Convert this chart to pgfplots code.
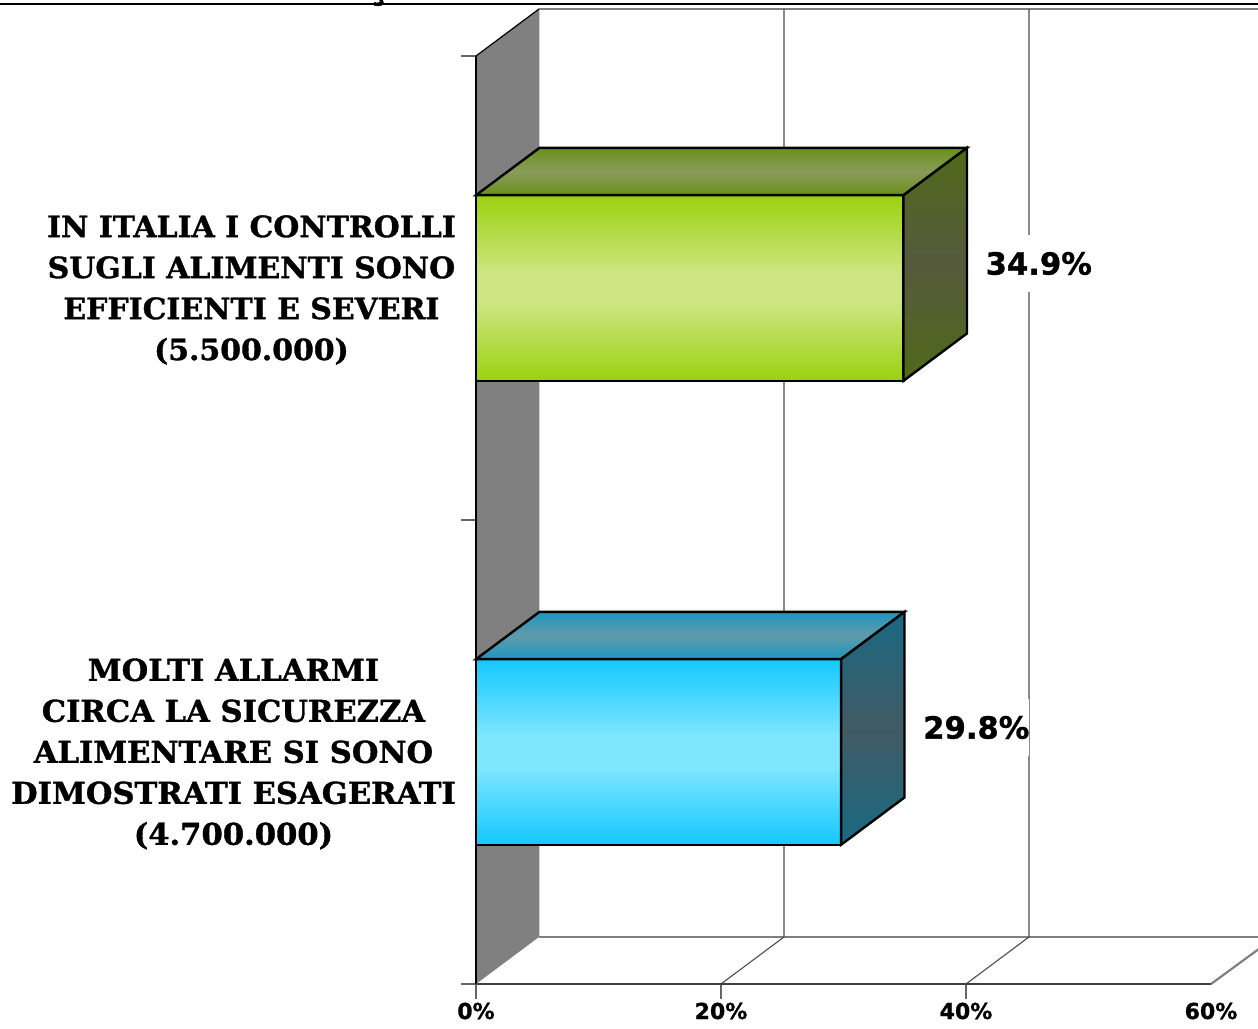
\documentclass[border=0pt]{standalone}
\usepackage{pgfplots}
\pgfplotsset{compat=1.18}
\usepackage{fontspec}
\setmainfont{DejaVu Sans}
\newfontfamily\labelfont[FakeStretch=1.02,FakeBold=1.2]{DejaVu Serif Bold}
\newfontfamily\numfont[FakeBold=1]{DejaVu Sans Bold}
\newcommand{\topline}{\fontsize{29.3}{41}\selectfont}

\definecolor{lime1}{RGB}{155,209,15}
\definecolor{lime2}{RGB}{205,230,130}
\definecolor{cyan1}{RGB}{20,200,255}
\definecolor{cyan2}{RGB}{128,230,255}
\definecolor{limeedge}{RGB}{105,145,25}
\definecolor{limetop}{RGB}{138,155,90}
\definecolor{limeside}{RGB}{80,105,25}
\definecolor{limemid}{RGB}{85,90,60}
\definecolor{cyanedge}{RGB}{30,150,190}
\definecolor{cyantop}{RGB}{95,155,170}
\definecolor{cyanside}{RGB}{25,105,130}
\definecolor{cyanmid}{RGB}{65,90,100}
% bar fronts: colours are symmetric around the middle
\pgfdeclareverticalshading{greenfront}{100bp}{color(0bp)=(lime1); color(25bp)=(lime1); color(46bp)=(lime2); color(54bp)=(lime2); color(75bp)=(lime1); color(100bp)=(lime1)}
\pgfdeclareverticalshading{bluefront}{100bp}{color(0bp)=(cyan1); color(25bp)=(cyan1); color(46bp)=(cyan2); color(54bp)=(cyan2); color(75bp)=(cyan1); color(100bp)=(cyan1)}

\begin{document}
\begin{tikzpicture}
\useasboundingbox (-476pt,-44pt) rectangle (782pt,984pt);
\clip (-476pt,-44pt) rectangle (782pt,984pt);
\begin{axis}[
    at={(0pt,0pt)}, anchor=origin,
    width=735pt, height=928pt, scale only axis,
    xmin=0, xmax=60, ymin=0, ymax=2,
    clip=false,
    axis x line*=bottom, axis y line*=left,
    xtick={0,20,40}, extra x ticks={60},
    extra x tick style={major tick length=0pt, xticklabel style={yshift=-15pt}},
    ytick={0,1,2}, yticklabels={},
    tick align=outside, major tick length=15pt,
    tick style={draw=black!60, line width=1.2pt},
    xticklabel={\pgfmathprintnumber{\tick}\%},
    /pgf/number format/assume math mode=true,
    xticklabel style={font=\numfont\fontsize{22}{24}\selectfont, anchor=center, yshift=-12pt},
    extra y ticks={0.5,1.5},
    extra y tick style={major tick length=0pt,
        yticklabel style={font=\labelfont\fontsize{30}{41}\selectfont,
            align=center, anchor=east, inner sep=0pt, xshift=-20pt, yshift=-2pt}},
    extra y tick labels={{MOLTI ALLARMI\\CIRCA LA SICUREZZA\\ALIMENTARE SI SONO\\DIMOSTRATI ESAGERATI\\(4.700.000)},
        {\topline IN ITALIA I CONTROLLI\\\topline SUGLI ALIMENTI SONO\\\topline EFFICIENTI E SEVERI\\\topline (5.500.000)}},
]
% rule at the top edge, with the tail of a cut-off letter
\node[anchor=base, inner sep=0pt, font=\labelfont\fontsize{40}{42}\selectfont] at (axis cs:-8,2.125) {Ç};
\addplot[black, line width=2.2pt] coordinates {(-39,2.1127) (64,2.1127)};
% side wall
\addplot[fill=black!50, draw=none] coordinates {(0,0) (5.18,0.102) (5.18,2.102) (0,2)} -- cycle;
\addplot[black, line width=1.2pt] coordinates {(0,2) (5.18,2.102)};
\addplot[black, line width=1.6pt] coordinates {(0,0) (0,2)};
% back wall: top and floor edges, grid lines
\addplot[black!50, line width=2.2pt] coordinates {(5.18,2.1013) (64,2.1013)};
\addplot[black!50, line width=2.2pt] coordinates {(5.18,0.1013) (64,0.1013)};
\addplot[black!50, line width=2.2pt] coordinates {(60,0) (63.9,0.0754)};
\addplot[black!70, line width=1.1pt] coordinates {(20,0) (25.14,0.1013) (25.14,2.1013)};
\addplot[black!70, line width=1.1pt] coordinates {(40,0) (45.14,0.1013) (45.14,2.1013)};
\addplot[black!75, line width=2.4pt] coordinates {(0,0) (60,0)};
% green bar
\addplot[shade, shading=greenfront, draw=black, line width=2.4pt, xbar, bar width=185.6pt] coordinates {(34.9,1.5)};
\addplot[top color=limeedge, bottom color=limeedge, middle color=limetop, draw=black, line width=2.4pt]
    coordinates {(0,1.7) (34.9,1.7) (40.08,1.802) (5.18,1.802)} -- cycle;
\addplot[top color=limeside, bottom color=limeside, middle color=limemid, draw=black, line width=2.4pt]
    coordinates {(34.9,1.7) (40.08,1.802) (40.08,1.402) (34.9,1.3)} -- cycle;
% blue bar
\addplot[shade, shading=bluefront, draw=black, line width=2.4pt, xbar, bar width=185.6pt] coordinates {(29.8,0.5)};
\addplot[top color=cyanedge, bottom color=cyanedge, middle color=cyantop, draw=black, line width=2.4pt]
    coordinates {(0,0.7) (29.8,0.7) (34.98,0.802) (5.18,0.802)} -- cycle;
\addplot[top color=cyanside, bottom color=cyanside, middle color=cyanmid, draw=black, line width=2.4pt]
    coordinates {(29.8,0.7) (34.98,0.802) (34.98,0.402) (29.8,0.3)} -- cycle;
% value labels, white box interrupts the grid line
\addplot[only marks, mark=none, point meta=explicit symbolic,
    nodes near coords,
    every node near coord/.style={font=\numfont\fontsize{30.6}{32}\selectfont, anchor=west,
        fill=white, inner xsep=0pt, inner ysep=0pt, minimum height=57pt, xshift=82pt, yshift=24.5pt}]
    coordinates {(34.9,1.5) [34.9\%] (29.8,0.5) [29.8\%]};
\end{axis}
\end{tikzpicture}
\end{document}
